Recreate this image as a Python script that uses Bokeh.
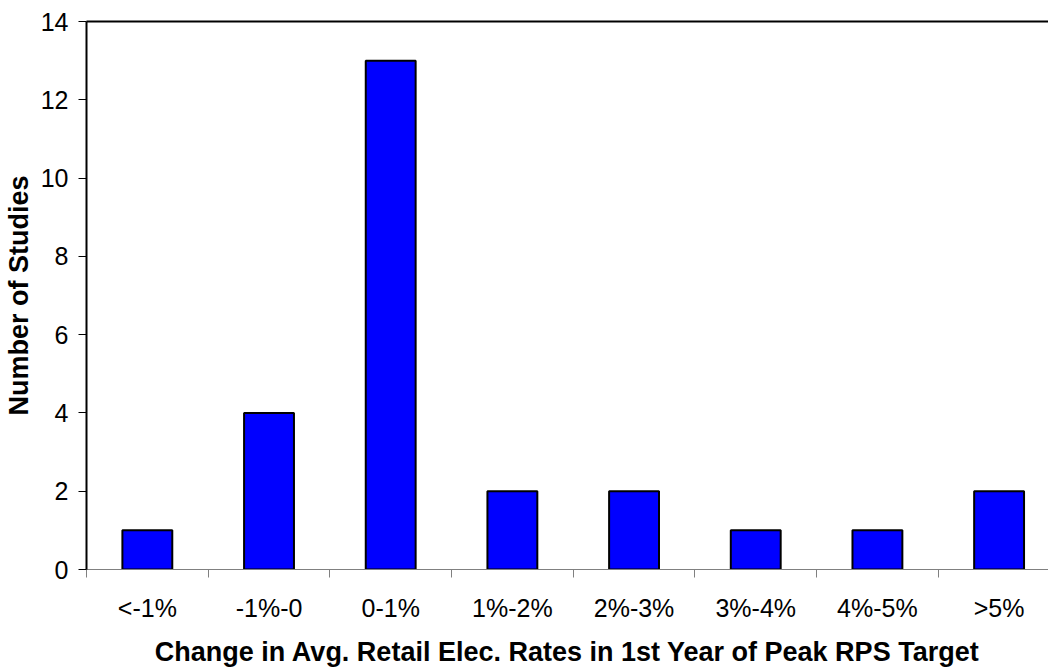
from bokeh.plotting import figure
from bokeh.models import Range1d, FixedTicker, LinearAxis
from bokeh.embed import file_html
from bokeh.resources import INLINE

# Distribution of studies by projected change in average retail electricity rates
categories = ["<-1%", "-1%-0", "0-1%", "1%-2%", "2%-3%", "3%-4%", "4%-5%", ">5%"]
counts = [1, 4, 13, 2, 2, 1, 1, 2]
y_ticks = [0, 2, 4, 6, 8, 10, 12, 14]

centers = [i + 0.5 for i in range(len(categories))]
boundaries = list(range(len(categories)))

p = figure(width=1048, height=669, output_backend="svg", toolbar_location=None,
           x_range=Range1d(0, 7.906), y_range=Range1d(0, 14),
           min_border_left=85, min_border_right=0, min_border_top=21,
           min_border_bottom=100, x_axis_location=None, y_axis_location=None)
p.outline_line_color = None
p.xgrid.visible = False
p.ygrid.visible = False
p.background_fill_color = "white"
p.border_fill_color = "white"

p.vbar(x=centers, top=counts, width=0.41, bottom=0,
       fill_color="#0000FF", line_color="black", line_width=2)

font = "Liberation Sans"

# Category axis: labels at bar centres, tick marks at category boundaries
xaxis = LinearAxis(ticker=FixedTicker(ticks=centers, minor_ticks=boundaries))
xaxis.major_label_overrides = {c: lab for c, lab in zip(centers, categories)}
xaxis.major_tick_line_color = None
xaxis.minor_tick_in = 0
xaxis.minor_tick_out = 8
xaxis.minor_tick_line_color = "#808080"
xaxis.minor_tick_line_width = 1
xaxis.axis_line_color = "#808080"
xaxis.axis_line_width = 1
xaxis.major_label_text_font = font
xaxis.major_label_text_font_size = "25px"
xaxis.major_label_text_color = "black"
xaxis.major_label_standoff = 16
xaxis.axis_label = "Change in Avg. Retail Elec. Rates in 1st Year of Peak RPS Target"
xaxis.axis_label_text_font = font
xaxis.axis_label_text_font_size = "27px"
xaxis.axis_label_text_font_style = "bold"
xaxis.axis_label_text_color = "black"
xaxis.axis_label_standoff = 12
p.add_layout(xaxis, "below")

yaxis = LinearAxis(ticker=FixedTicker(ticks=y_ticks, minor_ticks=[]))
yaxis.major_tick_in = 0
yaxis.major_tick_out = 8
yaxis.major_tick_line_color = "black"
yaxis.axis_line_color = "black"
yaxis.axis_line_width = 2
yaxis.major_label_text_font = font
yaxis.major_label_text_font_size = "25px"
yaxis.major_label_text_color = "black"
yaxis.major_label_standoff = 10
yaxis.axis_label = "Number of Studies"
yaxis.axis_label_text_font = font
yaxis.axis_label_text_font_size = "27px"
yaxis.axis_label_text_font_style = "bold"
yaxis.axis_label_text_color = "black"
yaxis.axis_label_standoff = 4
p.add_layout(yaxis, "left")

# Top frame line
top = LinearAxis(ticker=FixedTicker(ticks=[], minor_ticks=[]))
top.axis_line_color = "black"
top.axis_line_width = 2
top.major_tick_line_color = None
top.minor_tick_line_color = None
top.major_label_text_font_size = "0px"
p.add_layout(top, "above")

open("out.html", "w").write(file_html(p, INLINE))
